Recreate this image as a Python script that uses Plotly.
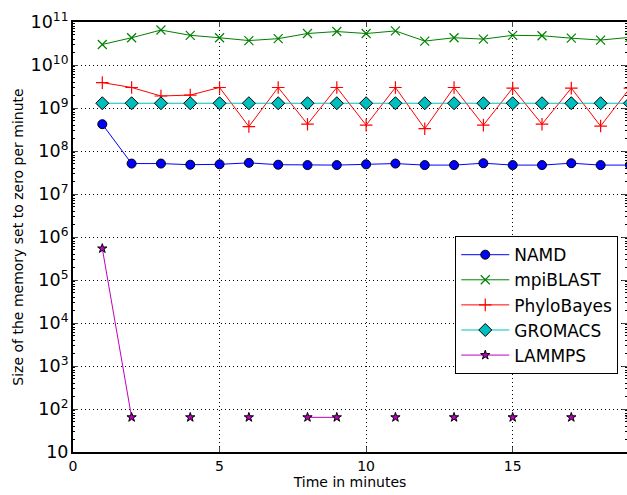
import plotly.graph_objects as go

minutes = list(range(1, 20))
namd = [4.2e8, 5.1e7, 5.1e7, 4.8e7, 4.9e7, 5.3e7, 4.8e7, 4.7e7, 4.7e7, 4.9e7,
        5.1e7, 4.7e7, 4.7e7, 5.2e7, 4.7e7, 4.7e7, 5.2e7, 4.7e7, 4.7e7]
mpiblast = [3.0e10, 4.3e10, 6.5e10, 4.9e10, 4.3e10, 3.7e10, 4.1e10, 5.4e10, 6.0e10, 5.4e10,
            6.2e10, 3.6e10, 4.3e10, 4.0e10, 4.9e10, 4.8e10, 4.2e10, 3.8e10, 4.4e10]
phylobayes = [3.9e9, 3.0e9, 1.9e9, 2.0e9, 3.0e9, 3.7e8, 3.0e9, 4.2e8, 3.0e9, 4.0e8,
              3.0e9, 3.3e8, 3.0e9, 4.0e8, 2.9e9, 4.2e8, 2.9e9, 3.8e8, 2.9e9]
gromacs = [1.29e9] * 19
lammps = [5.4e5, 64, None, 64, None, 64, None, 64, 64, None,
          64, None, 64, None, 64, None, 64, None, 64]

series = [
    ("NAMD", namd, "#0000ff", dict(symbol="circle", size=9, color="#0000ff", line=dict(color="black", width=1))),
    ("mpiBLAST", mpiblast, "#008000", dict(symbol="x-thin-open", size=9, color="#008000", line=dict(color="#008000", width=1.2))),
    ("PhyloBayes", phylobayes, "#ff0000", dict(symbol="cross-thin-open", size=9, color="#ff0000", line=dict(color="#ff0000", width=1.2))),
    ("GROMACS", gromacs, "#00bfbf", dict(symbol="diamond", size=10, color="#00bfbf", line=dict(color="black", width=1))),
    ("LAMMPS", lammps, "#bf00bf", dict(symbol="star", size=7, color="#bf00bf", line=dict(color="black", width=1))),
]

fig = go.Figure()
for i, (name, vals, col, mk) in enumerate(series):
    fig.add_trace(go.Scatter(
        x=minutes, y=vals, name=name, mode="lines+markers",
        line=dict(color=col, width=1), marker=mk, connectgaps=False,
    ))

fnt = "DejaVu Sans, sans-serif"
dotted = "1px,3px"
fig.update_layout(
    width=627, height=495,
    margin=dict(l=73, r=0, t=22, b=43, autoexpand=False),
    paper_bgcolor="white", plot_bgcolor="white",
    font=dict(family=fnt, size=14, color="black"),
    showlegend=True,
    legend=dict(
        x=0.69, y=0.502, xanchor="left", yanchor="top",
        bgcolor="white", bordercolor="black", borderwidth=1,
        font=dict(family=fnt, size=17), itemwidth=48,
    ),
    xaxis=dict(
        range=[0, 18.9], tickvals=[0, 5, 10, 15], ticks="inside", ticklen=5,
        showline=True, linecolor="black", linewidth=1.5, mirror="ticks",
        showgrid=True, gridcolor="black", griddash=dotted, gridwidth=1,
        zeroline=False, automargin=False,
        title=dict(text="Time in minutes", font=dict(size=14), standoff=2),
        tickfont=dict(size=14),
    ),
    yaxis=dict(
        type="log", range=[1, 11], dtick=1, exponentformat="power",
        ticks="inside", ticklen=5,
        minor=dict(ticks="inside", ticklen=2, tickcolor="black", showgrid=False),
        showline=True, linecolor="black", linewidth=1.5, mirror="ticks",
        showgrid=True, gridcolor="black", griddash=dotted, gridwidth=1,
        zeroline=False, automargin=False,
        title=dict(text="Size of the memory set to zero per minute", font=dict(size=14), standoff=4),
        tickfont=dict(size=14),
    ),
)
fig.write_html("out.html", config={"displayModeBar": False},
               post_script="document.body.style.margin='0';")
